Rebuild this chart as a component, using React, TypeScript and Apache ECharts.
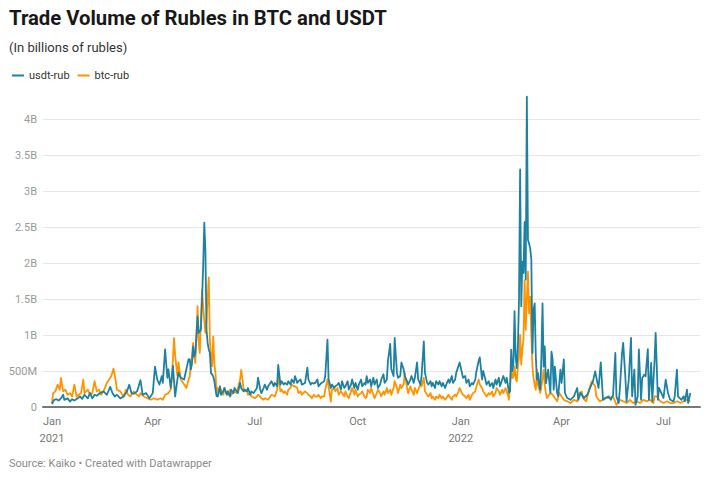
import React, { useEffect, useRef } from "react";
import * as echarts from "echarts";

const usdtDays = [
  0, 2, 4, 6, 8, 10, 11, 14, 16, 18, 20, 23, 25, 27, 29, 32, 34, 36, 38, 40, 43, 46, 49, 52, 54, 56, 58, 61, 64, 67, 69, 71, 73, 76, 79, 81, 84, 87, 90, 92, 94, 96, 98, 99, 101, 103, 104, 106, 108, 110, 112, 113, 115, 118, 120, 122,
  123, 124, 125, 126, 127, 128, 129, 130, 131, 132, 133, 134, 135, 136, 137, 138, 139, 140, 141, 142, 143, 144, 145, 146, 147,
  148, 150, 151, 153, 154, 156, 157, 159, 160, 162, 163, 165, 166, 168, 169, 171, 172, 174, 175, 177, 178, 180, 181, 183, 184, 186, 187, 189, 190, 192, 193, 195, 196, 198, 199, 201, 202, 204, 205, 207, 208, 210, 211, 213, 214, 216, 217, 219, 220, 222, 223, 225, 226, 228, 229, 231, 232, 234, 235, 237, 238, 240, 241, 243, 244, 246, 247, 249, 250, 252, 253, 255, 256, 258, 259, 261, 262, 264, 265, 267, 268, 270, 271, 273, 274, 276, 277, 279, 280,
  281, 282, 284, 285, 287, 288, 290, 291, 293, 294, 296, 297, 299, 300, 302, 303, 305, 306, 308, 309, 311, 312, 314, 315, 317, 318, 320, 321, 323, 324, 326, 327, 329, 330, 332, 333, 335, 336, 338, 339, 340, 342, 343, 345, 346, 348, 349, 351, 352, 354, 355, 357, 358, 360, 361, 363, 364, 366, 367, 369, 370, 372, 373, 375, 376, 378, 379, 381, 382, 384, 385, 387, 388, 390, 391, 393, 394, 396, 397, 399, 400, 402, 403, 405, 406, 407,
  408, 409, 410, 411, 412, 413, 414, 415, 416, 417, 418, 419, 420, 421, 422, 423, 424, 425, 426, 427, 428, 429, 430, 431, 432, 433, 434, 435, 436, 437, 438, 439, 440, 441,
  443, 445, 446, 447, 448, 449, 451, 452, 454, 455, 457, 458, 460, 463, 466, 469, 470, 472, 475, 478, 481, 483, 485, 487, 488, 490, 492, 494, 497, 499, 501, 503, 504, 506, 507, 509, 510, 512, 513, 515, 517, 518, 520, 521, 523, 524, 526, 527, 529, 530, 532, 533, 535, 536, 538, 539, 541, 542, 544, 546, 548, 550, 552, 555, 556, 558, 559, 562, 564, 565, 567, 568, 570,
];

// usdt-rub volume, millions of rubles
const usdtRub = [
  42, 100, 108, 90, 120, 170, 100, 120, 75, 108, 90, 120, 146, 113, 170, 120, 195, 120, 170, 156, 195, 217, 170, 280, 195, 146, 170, 120, 146, 217, 310, 193, 184, 217, 373, 170, 193, 120, 193, 560, 382, 311, 429, 335, 800, 406, 524, 264, 571, 146, 382, 477, 406, 382, 524, 665,
  660, 520, 600, 840, 700, 750, 1000, 1260, 1030, 1050, 1080, 1500, 1950, 2560, 2180, 1070, 890, 800, 750, 470, 450, 425, 356, 250, 150,
  146, 288, 170, 217, 264, 170, 217, 146, 240, 193, 264, 217, 193, 335, 264, 217, 240, 217, 264, 170, 217, 193, 217, 264, 406, 240, 193, 264, 311, 240, 288, 335, 358, 288, 335, 288, 585, 311, 358, 311, 335, 311, 358, 311, 382, 335, 430, 335, 358, 382, 311, 325, 335, 547, 382, 311, 335, 325, 335, 382, 288, 325, 335, 358, 430, 935, 382, 264, 311, 264, 288, 311, 335, 240, 358, 264, 288, 358, 240, 311, 382, 264, 335, 240, 311, 382, 288, 335, 311,
  430, 335, 382, 288, 406, 311, 382, 264, 311, 382, 453, 335, 382, 642, 878, 524, 430, 958, 477, 406, 430, 618, 524, 430, 358, 311, 382, 430, 335, 406, 618, 382, 311, 430, 911, 477, 335, 311, 358, 288, 335, 264, 358, 311, 358, 288, 335, 264, 311, 382, 335, 430, 335, 382, 477, 571, 618, 477, 406, 430, 335, 382, 288, 335, 311, 382, 500, 642, 690, 382, 500, 382, 311, 358, 288, 335, 264, 382, 311, 406, 288, 382, 430, 335, 406, 311,
  200, 220, 795, 500, 610, 1330, 700, 540, 840, 1500, 3300, 1400, 2020, 1860, 2570, 1770, 4310, 2320, 2270, 2200, 2050, 750, 1350, 1440, 700, 380, 470, 300, 240, 700, 1440, 560, 840, 330,
  520, 195, 770, 660, 240, 560, 195, 150, 520, 333, 660, 195, 125, 100, 148, 264, 100, 195, 125, 170, 287, 356, 495, 333, 264, 620, 100, 125, 148, 100, 170, 750, 148, 55, 240, 750, 890, 403, 79, 380, 960, 148, 520, 32, 148, 800, 100, 403, 450, 426, 805, 100, 611, 79, 635, 1030, 100, 264, 195, 125, 380, 195, 100, 79, 148, 520, 148, 100, 148, 79, 240, 55, 195,
];

const btcDays = [
  0, 1, 3, 5, 7, 8, 10, 12, 14, 16, 18, 20, 22, 24, 26, 28, 29, 32, 34, 36, 38, 40, 42, 44, 46, 49, 51, 53, 55, 57, 58, 61, 64, 66, 68, 70, 73, 76, 78, 79, 82, 85, 88, 91, 94, 97, 99, 101, 104, 106, 107, 109, 110, 112, 113, 115, 118, 120, 122,
  123, 124, 125, 126, 127, 128, 129, 130, 131, 132, 133, 134, 135, 136, 137, 138, 139, 140, 141, 142, 143, 144, 145, 146, 147,
  148, 150, 151, 153, 154, 156, 157, 159, 160, 162, 163, 165, 166, 168, 169, 171, 172, 174, 175, 177, 178, 180, 181, 183, 184, 186, 187, 189, 190, 192, 193, 195, 196, 198, 199, 201, 202, 204, 205, 207, 208, 210, 211, 213, 214, 216, 217, 219, 220, 222, 223, 225, 226, 228, 229, 231, 232, 234, 235, 237, 238, 240, 241, 243, 244, 246, 247, 249, 250, 252, 253, 255, 256, 258, 259, 261, 262, 264, 265, 267, 268, 270, 271, 273, 274, 276, 277, 279, 280,
  281, 282, 284, 285, 287, 288, 290, 291, 293, 294, 296, 297, 299, 300, 302, 303, 305, 306, 308, 309, 311, 312, 314, 315, 317, 318, 320, 321, 323, 324, 326, 327, 329, 330, 332, 333, 335, 336, 338, 339, 340, 342, 343, 345, 346, 348, 349, 351, 352, 354, 355, 357, 358, 360, 361, 363, 364, 366, 367, 369, 370, 372, 373, 375, 376, 378, 379, 381, 382, 384, 385, 387, 388, 390, 391, 393, 394, 396, 397, 399, 400, 402, 403, 405, 406, 407,
  408, 409, 410, 411, 412, 413, 414, 415, 416, 417, 418, 419, 420, 421, 422, 423, 424, 425, 426, 427, 428, 429, 430, 431, 432, 433, 434, 435, 436, 437, 438, 439, 440, 441,
  442, 445, 447, 449, 451, 453, 454, 457, 460, 463, 466, 469, 471, 473, 474, 477, 480, 482, 483, 485, 486, 489, 492, 495, 498, 501, 504, 507, 510, 513, 516, 519, 522, 525, 528, 531, 534, 537, 538, 540, 543, 546, 549, 552, 555, 558, 561, 564, 567, 570,
];

// btc-rub volume, millions of rubles
const btcRub = [
  50, 193, 217, 310, 240, 405, 217, 240, 170, 193, 146, 310, 146, 170, 193, 380, 193, 240, 170, 193, 360, 217, 240, 170, 217, 335, 382, 429, 533, 358, 240, 217, 146, 240, 170, 146, 217, 170, 146, 193, 146, 122, 100, 122, 100, 122, 100, 170, 193, 240, 382, 958, 713, 429, 620, 382, 311, 264, 382,
  425, 600, 700, 890, 700, 610, 1000, 1400, 900, 750, 1200, 1630, 1400, 1200, 1030, 1210, 1500, 1800, 935, 700, 565, 980, 600, 470, 195,
  264, 193, 240, 170, 264, 193, 170, 240, 170, 193, 217, 193, 264, 382, 515, 264, 217, 240, 170, 193, 146, 132, 122, 146, 170, 146, 122, 100, 122, 108, 100, 146, 170, 156, 146, 240, 430, 217, 240, 193, 217, 170, 240, 264, 311, 288, 288, 264, 193, 217, 170, 203, 217, 193, 170, 146, 122, 170, 146, 146, 170, 122, 146, 146, 240, 382, 288, 75, 240, 264, 217, 264, 170, 217, 193, 146, 217, 146, 122, 217, 264, 170, 240, 146, 170, 193, 217, 146, 122,
  146, 240, 193, 264, 170, 122, 193, 240, 193, 146, 217, 170, 264, 193, 240, 170, 264, 358, 264, 193, 311, 264, 311, 476, 264, 193, 288, 240, 170, 264, 193, 240, 311, 288, 406, 217, 170, 146, 193, 122, 146, 100, 146, 122, 170, 122, 146, 100, 122, 170, 146, 100, 146, 170, 146, 217, 264, 193, 170, 146, 122, 170, 100, 170, 193, 217, 288, 382, 311, 264, 217, 170, 146, 193, 170, 217, 146, 193, 264, 217, 170, 240, 193, 264, 217, 170,
  100, 300, 565, 400, 425, 565, 400, 355, 565, 700, 1000, 590, 800, 935, 1760, 1070, 1500, 1880, 1300, 1530, 1000, 565, 400, 300, 240, 520, 300, 250, 195, 290, 400, 520, 300, 195,
  125, 195, 170, 125, 80, 195, 170, 100, 79, 55, 100, 79, 195, 217, 125, 79, 264, 356, 333, 287, 148, 79, 100, 125, 125, 148, 30, 100, 79, 55, 100, 55, 79, 55, 100, 79, 100, 55, 148, 148, 79, 55, 79, 55, 55, 79, 55, 79, 100, 79,
];

// Tick positions (days since 2021-01-01) and their labels
const tickDays = [0, 90, 181, 273, 365, 455, 546];
const tickLabels = ["Jan\n2021", "Apr", "Jul", "Oct", "Jan\n2022", "Apr", "Jul"];
const seriesNames = ["usdt-rub", "btc-rub"];

export default function App() {
  const ref = useRef<HTMLDivElement>(null);
  useEffect(() => {
    document.body.style.margin = "0";
    const chart = echarts.init(ref.current!, null, { renderer: "svg" });
    const pairs = (days: number[], vals: number[]) => {
      const n = Math.min(vals.length, days.length);
      const out: [number, number][] = [];
      for (let i = 0; i < n; i++) out.push([days[i], vals[i]]);
      return out;
    };
    const option = {
      animation: false,
      backgroundColor: "#ffffff",
      textStyle: { fontFamily: "Roboto" },
      title: [
        {
          text: "Trade Volume of Rubles in BTC and USDT",
          left: 9,
          top: 8,
          padding: 0,
          textStyle: { fontFamily: "Roboto", fontSize: 20.3, fontWeight: "bold", color: "#181818" },
        },
        {
          text: "(In billions of rubles)",
          left: 9,
          top: 41,
          padding: 0,
          textStyle: { fontFamily: "Roboto", fontSize: 13, fontWeight: "normal", color: "#333333" },
        },
        {
          text: "Source: Kaiko • Created with Datawrapper",
          left: 9,
          top: 458,
          padding: 0,
          textStyle: { fontFamily: "Roboto", fontSize: 11, fontWeight: "normal", color: "#8a8a8a" },
        },
      ],
      legend: {
        data: seriesNames,
        left: 12,
        top: 70,
        padding: 0,
        icon: "rect",
        itemWidth: 12,
        itemHeight: 2,
        itemGap: 8,
        textStyle: { fontFamily: "Roboto", fontSize: 11, color: "#333333" },
      },
      grid: { left: 43, right: 10, top: 119, height: 288, containLabel: false },
      xAxis: {
        type: "value",
        min: -8,
        max: 578.6,
        axisLine: { show: true, onZero: false, lineStyle: { color: "#777777", width: 2 } },
        axisTick: { show: false },
        splitLine: { show: false },
        axisLabel: {
          customValues: tickDays,
          formatter: (v: number) => {
            const i = tickDays.indexOf(v);
            return i >= 0 ? tickLabels[i] : "";
          },
          color: "#777777",
          fontFamily: "Roboto",
          fontSize: 11,
          lineHeight: 17,
          margin: 6,
          hideOverlap: false,
        },
      },
      yAxis: {
        type: "value",
        min: 0,
        max: 4000,
        interval: 500,
        axisLine: { show: false },
        axisTick: { show: false },
        splitLine: { lineStyle: { color: "#e6e6e6", width: 1 } },
        axisLabel: {
          formatter: (v: number) => (v === 0 ? "0" : v < 1000 ? v + "M" : v / 1000 + "B"),
          color: "#999999",
          fontFamily: "Roboto",
          fontSize: 11,
          margin: 6,
        },
      },
      series: [
        {
          name: "btc-rub",
          type: "line",
          data: pairs(btcDays, btcRub),
          symbol: "none",
          clip: false,
          color: "#ff9300",
          lineStyle: { width: 1.8, color: "#ff9300", join: "round" },
        },
        {
          name: "usdt-rub",
          type: "line",
          data: pairs(usdtDays, usdtRub),
          symbol: "none",
          clip: false,
          color: "#1d81a2",
          lineStyle: { width: 1.8, color: "#1d81a2", join: "round" },
        },
      ],
    };
    chart.setOption(option as any);
    return () => chart.dispose();
  }, []);
  return <div ref={ref} style={{ width: 710, height: 480 }} />;
}
